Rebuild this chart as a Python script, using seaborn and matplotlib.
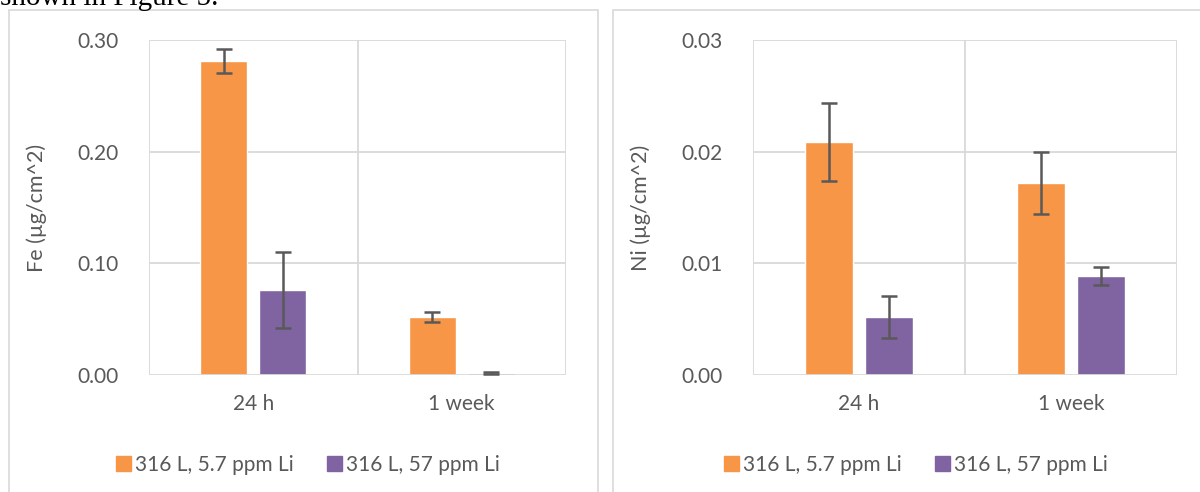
import numpy as np
import pandas as pd
import matplotlib.pyplot as plt
import seaborn as sns
from matplotlib.patches import Rectangle

# data
periods = ['24 h', '1 week']
series = ['316 L, 5.7 ppm Li', '316 L, 57 ppm Li']
fe_mean = {'316 L, 5.7 ppm Li': [0.281, 0.052], '316 L, 57 ppm Li': [0.076, 0.0015]}
fe_err = {'316 L, 5.7 ppm Li': [0.0105, 0.0045], '316 L, 57 ppm Li': [0.034, 0.001]}
ni_mean = {'316 L, 5.7 ppm Li': [0.0209, 0.0172], '316 L, 57 ppm Li': [0.0052, 0.0089]}
ni_err = {'316 L, 5.7 ppm Li': [0.0035, 0.0028], '316 L, 57 ppm Li': [0.0019, 0.0008]}
colors = ['#F79646', '#8064A2']

sns.set_style('white')
plt.rcParams['font.family'] = ['Lato', 'DejaVu Sans']
txt = '#595959'
grid = '#d9d9d9'

fig = plt.figure(figsize=(12, 4.92), dpi=100)

# panel frames
fig.patches.append(Rectangle((9 / 1200, -0.1), 589 / 1200, 1.1 - 10 / 492, transform=fig.transFigure,
                             fill=False, edgecolor=grid, lw=1.2))
fig.patches.append(Rectangle((613 / 1200, -0.1), 0.6, 1.1 - 10 / 492, transform=fig.transFigure,
                             fill=False, edgecolor=grid, lw=1.2))
# tail of the document line above the charts
fig.text(0.0, 1 - 5 / 492, 'shown in Figure 5.', family='Liberation Serif', fontsize=21,
         color='black', ha='left', va='baseline')


def panel(rect, mean, err, ymax, step, ylabel, leg_x):
    ax = fig.add_axes(rect)
    df = pd.DataFrame([(p, s, mean[s][i], err[s][i]) for s in series for i, p in enumerate(periods)],
                      columns=['period', 'series', 'value', 'err'])
    sns.barplot(data=df, x='period', y='value', hue='series', order=periods, hue_order=series,
                palette=colors, width=0.567, gap=0.2, errorbar=None, saturation=1, ax=ax, legend=False)
    for s, bars in zip(series, ax.containers):
        xs = [b.get_x() + b.get_width() / 2 for b in bars]
        ax.errorbar(xs, mean[s], yerr=err[s], fmt='none', ecolor=txt, elinewidth=1.8,
                    capsize=6, capthick=1.8, zorder=5)
    ax.set_xlim(-0.5, 1.5)
    ax.set_ylim(0, ymax)
    ax.set_yticks(np.arange(0, ymax + step / 2, step))
    ax.yaxis.set_major_formatter(plt.FormatStrFormatter('%.2f'))
    for y in np.arange(step, ymax + step / 2, step):
        ax.axhline(y, color=grid, lw=1.3, zorder=0)
    for x in [-0.5, 0.5, 1.5]:
        ax.axvline(x, color=grid, lw=1.3, zorder=0)
    ax.axhline(0, color=grid, lw=2, zorder=1)
    for sp in ax.spines.values():
        sp.set_visible(False)
    ax.tick_params(length=0, labelsize=15, labelcolor=txt)
    ax.tick_params(axis='y', pad=22)
    ax.tick_params(axis='x', pad=14)
    ax.set_xlabel('')
    ax.set_ylabel(ylabel, fontsize=15.5, color=txt, labelpad=22)
    handles = [plt.Rectangle((0, 0), 1, 1, color=c) for c in colors]
    ax.legend(handles, series, loc='center', bbox_to_anchor=(leg_x, 1 - 465 / 492),
              bbox_transform=fig.transFigure, ncol=2, frameon=False, fontsize=15,
              labelcolor=txt, handlelength=0.7, handleheight=0.7, handletextpad=0.2,
              columnspacing=1.6)
    return ax


panel([149 / 1200, 1 - 375 / 492, 417 / 1200, 335 / 492], fe_mean, fe_err, 0.30, 0.10,
      'Fe (µg/cm^2)', 308 / 1200)
panel([753 / 1200, 1 - 375 / 492, 424 / 1200, 335 / 492], ni_mean, ni_err, 0.03, 0.01,
      'Ni (µg/cm^2)', 916 / 1200)

fig.savefig('out.png', dpi=100)
